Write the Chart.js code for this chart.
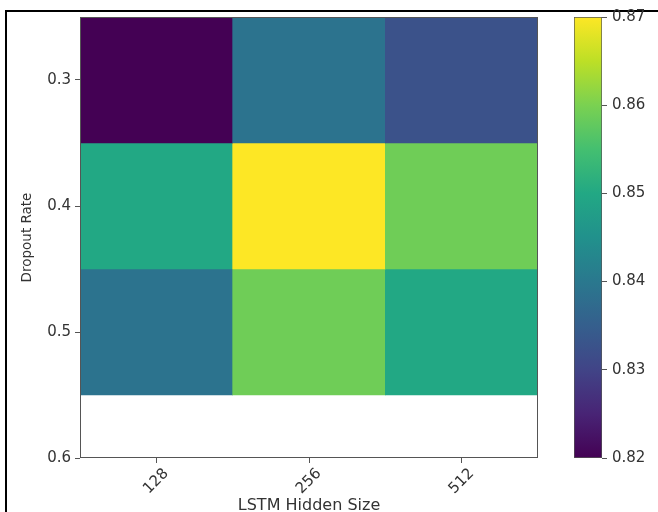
<!DOCTYPE html>
<html lang="en">
<head>
  <meta charset="UTF-8">
  <title>Dropout vs LSTM Hidden Size</title>
  <script src="https://cdn.jsdelivr.net/npm/chart.js"></script>
  <style>
    html, body {
      margin: 0;
      padding: 0;
      background: #fff;
      overflow: hidden;
    }
    .frame {
      position: absolute;
      left: 5px;
      top: 10px;
      width: 700px;
      height: 560px;
      border-left: 2px solid #000;
      border-top: 2px solid #000;
    }
    #heat {
      position: absolute;
      left: 0;
      top: 0;
    }
    #cbar {
      position: absolute;
      left: 560px;
      top: 0;
    }
  </style>
</head>
<body>

<div class="frame"></div>
<canvas id="heat" width="560" height="512"></canvas>
<canvas id="cbar" width="98" height="512"></canvas>

<script>
  // data
  const hiddenSizes = ['128', '256', '512'];
  const dropoutRates = [0.3, 0.4, 0.5];
  const accuracy = [
    [0.820, 0.839, 0.8325],  // dropout 0.3
    [0.850, 0.870, 0.859],   // dropout 0.4
    [0.839, 0.859, 0.850]    // dropout 0.5
  ];
  const dropoutTicks = [0.3, 0.4, 0.5, 0.6];
  const cbMin = 0.82, cbMax = 0.87;

  const viridisStops = ['#440154', '#482475', '#414487', '#355f8d', '#2a788e',
    '#21918c', '#22a884', '#44bf70', '#7ad151', '#bddf26', '#fde725'];

  function hexToRgb(h) {
    return [parseInt(h.slice(1, 3), 16), parseInt(h.slice(3, 5), 16), parseInt(h.slice(5, 7), 16)];
  }

  function viridis(t) {
    t = Math.min(1, Math.max(0, t));
    const pos = t * (viridisStops.length - 1);
    const i = Math.min(Math.floor(pos), viridisStops.length - 2);
    const f = pos - i;
    const a = hexToRgb(viridisStops[i]), b = hexToRgb(viridisStops[i + 1]);
    const c = a.map((v, k) => Math.round(v + (b[k] - v) * f));
    return `rgb(${c[0]},${c[1]},${c[2]})`;
  }

  const textColor = '#333';
  const lineColor = '#555';
  const tickFont = { family: 'DejaVu Sans', size: 15 };

  // plot frame (matplotlib spines)
  const framePlugin = {
    id: 'frame',
    afterDatasetsDraw(chart) {
      const a = chart.chartArea;
      const ctx = chart.ctx;
      ctx.save();
      ctx.strokeStyle = lineColor;
      ctx.lineWidth = 1;
      ctx.strokeRect(a.left + 0.5, a.top + 0.5, a.right - a.left - 1, a.bottom - a.top - 1);
      ctx.restore();
    }
  };

  new Chart(document.getElementById('heat'), {
    type: 'bar',
    data: {
      labels: hiddenSizes,
      datasets: dropoutRates.map((d, i) => ({
        label: 'Dropout ' + d,
        data: hiddenSizes.map(() => [d - 0.05, d + 0.05]),
        backgroundColor: accuracy[i].map(v => viridis((v - cbMin) / (cbMax - cbMin))),
        borderWidth: 0,
        barPercentage: 1,
        categoryPercentage: 1,
        grouped: false
      }))
    },
    options: {
      responsive: false,
      animation: false,
      layout: { padding: { top: 17, right: 22, left: 0, bottom: 0 } },
      scales: {
        x: {
          offset: true,
          grid: { display: true, drawOnChartArea: false, offset: false, tickLength: 5, color: lineColor },
          border: { display: false },
          ticks: {
            color: textColor,
            font: tickFont,
            minRotation: 45,
            maxRotation: 45,
            padding: 2,
            labelOffset: 10
          },
          title: {
            display: true,
            text: 'LSTM Hidden Size',
            color: textColor,
            font: { family: 'DejaVu Sans', size: 16 },
            padding: { top: 0, bottom: -3 }
          },
          afterFit: axis => { axis.height = 54; }
        },
        y: {
          min: 0.25,
          max: 0.6,
          reverse: true,
          afterBuildTicks: axis => { axis.ticks = dropoutTicks.map(v => ({ value: v })); },
          grid: { display: true, drawOnChartArea: false, tickLength: 5, color: lineColor },
          border: { display: false },
          ticks: {
            color: textColor,
            font: tickFont,
            padding: 4,
            callback: v => v.toFixed(1)
          },
          title: {
            display: true,
            text: 'Dropout Rate',
            color: textColor,
            font: { family: 'DejaVu Sans', size: 13.5 },
            padding: { top: 19, bottom: 0 }
          },
          afterFit: axis => { axis.width = 80; }
        }
      },
      plugins: {
        legend: { display: false },
        tooltip: { enabled: false }
      }
    },
    plugins: [framePlugin]
  });

  // colour bar
  new Chart(document.getElementById('cbar'), {
    type: 'bar',
    data: {
      labels: ['accuracy'],
      datasets: [{
        data: [[cbMin, cbMax]],
        backgroundColor: ctx => {
          const a = ctx.chart.chartArea;
          if (!a) return '#888';
          const g = ctx.chart.ctx.createLinearGradient(0, a.bottom, 0, a.top);
          viridisStops.forEach((c, i) => g.addColorStop(i / (viridisStops.length - 1), c));
          return g;
        },
        borderColor: lineColor,
        borderWidth: 1,
        borderSkipped: false,
        barPercentage: 1,
        categoryPercentage: 1
      }]
    },
    options: {
      responsive: false,
      animation: false,
      layout: { padding: { top: 17, right: 0, left: 14, bottom: 54 } },
      scales: {
        x: { display: false },
        y: {
          position: 'right',
          min: cbMin,
          max: cbMax,
          grid: { display: true, drawOnChartArea: false, tickLength: 5, color: lineColor },
          border: { display: false },
          ticks: {
            stepSize: 0.01,
            color: textColor,
            font: tickFont,
            padding: 5,
            callback: v => v.toFixed(2)
          },
          afterFit: axis => { axis.width = 56; }
        }
      },
      plugins: {
        legend: { display: false },
        tooltip: { enabled: false }
      }
    }
  });
</script>

</body>
</html>
